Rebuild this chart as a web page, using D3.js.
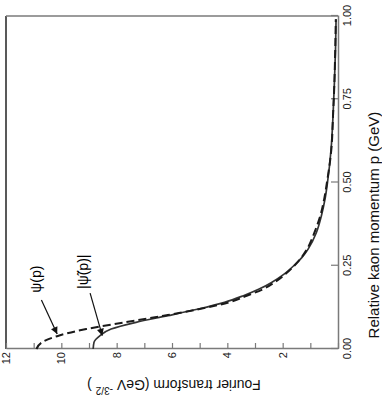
<!DOCTYPE html>
<html>
<head>
<meta charset="utf-8">
<script src="https://cdn.jsdelivr.net/npm/d3@7"></script>
<style>
  body { margin: 0; background: #fff; }
  text { font-family: "Liberation Sans", Arial, sans-serif; }
</style>
</head>
<body>
<svg id="chart" width="382" height="407"></svg>
<script>
// relative momentum p (GeV)
const pVals = [0, 0.02, 0.04, 0.06, 0.08, 0.10, 0.12, 0.14, 0.16, 0.18, 0.20, 0.225, 0.25, 0.275, 0.30, 0.35, 0.40, 0.45, 0.50, 0.60, 0.70, 0.80, 0.90, 0.99]
// psi(p) dashed
const psiVals = [10.9, 10.7, 10.1, 9.1, 7.7, 6.3, 5.0, 3.95, 3.3, 2.7, 2.3, 1.9, 1.58, 1.32, 1.12, 0.85, 0.64, 0.5, 0.4, 0.24, 0.18, 0.13, 0.1, 0.08]
// |psi~(p)| solid
const psiTilVals = [8.85, 8.82, 8.6, 8.2, 7.3, 6.15, 5.05, 4.1, 3.42, 2.85, 2.4, 1.95, 1.6, 1.3, 1.08, 0.78, 0.6, 0.47, 0.38, 0.25, 0.18, 0.13, 0.09, 0.07]
const pTicks = [0, 0.25, 0.5, 0.75, 1.0]
const vTicks = [0, 1, 2, 3, 4, 5, 6, 7, 8, 9, 10, 11, 12]

const W = 333, H = 332 // plot size before rotation
const axisCol = "#7a7a7a"
const lineCol = "#333"

var svg = d3.select("#chart")
svg.append("rect").attr("width", 382).attr("height", 407).attr("fill", "#fff")

// marker for arrows
svg.append("defs").append("marker")
  .attr("id", "arr")
  .attr("viewBox", "0 0 10 10")
  .attr("refX", 10).attr("refY", 5)
  .attr("markerWidth", 9).attr("markerHeight", 7)
  .attr("markerUnits", "userSpaceOnUse")
  .attr("orient", "auto")
  .append("path").attr("d", "M0,0 L10,5 L0,10 z").attr("fill", "#111")

// whole chart is drawn normally and turned 90deg counter-clockwise
const g = svg.append("g").attr("transform", "translate(6,349) rotate(-90)")

const x = d3.scaleLinear().domain([0, 1]).range([0, W])
const y = d3.scaleLinear().domain([0, 12]).range([H, 0])

// frame (top side of the plot drawn darker)
g.append("line").attr("x1", 0).attr("x2", W).attr("y1", 0).attr("y2", 0)
  .attr("stroke", "#222").attr("stroke-width", 1.5)
g.append("line").attr("x1", W).attr("x2", W).attr("y1", 0).attr("y2", H)
  .attr("stroke", axisCol).attr("stroke-width", 1.5)

const xAxis = d3.axisBottom(x).tickValues(pTicks).tickFormat(d3.format(".2f"))
  .tickSizeInner(-7).tickSizeOuter(0).tickPadding(5)
const gx = g.append("g").attr("transform", `translate(0,${H})`).call(xAxis)

const yAxis = d3.axisLeft(y).tickValues(vTicks)
  .tickFormat(d => (d > 0 && d % 2 == 0) ? d : "")
  .tickSizeInner(-6).tickSizeOuter(0).tickPadding(3)
const gy = g.append("g").call(yAxis)

for (const a of [gx, gy]) {
  a.select(".domain").attr("stroke", axisCol).attr("stroke-width", 1.5)
  a.selectAll(".tick line").attr("stroke", axisCol).attr("stroke-width", 1.2)
  a.selectAll(".tick text").attr("font-size", "11px").attr("fill", "#222")
    .attr("font-family", "Liberation Sans, Arial, sans-serif")
}

// axis titles
g.append("text")
  .attr("x", 349 - 225).attr("y", H + 41)
  .attr("text-anchor", "middle").attr("font-size", "15px").attr("fill", "#111")
  .text("Relative kaon momentum p (GeV)")

const yt = g.append("text")
  .attr("transform", `translate(-31,${H / 2 + 2}) rotate(-90)`)
  .attr("text-anchor", "middle").attr("font-size", "14px").attr("fill", "#111")
yt.append("tspan").text("Fourier transform (GeV ")
yt.append("tspan").attr("font-size", "10px").attr("dy", "-7").text("-3/2")
yt.append("tspan").attr("dy", "7").text(" )")

// curves
const line = d3.line().curve(d3.curveMonotoneX)
const psi = pVals.map((p, i) => [x(p), y(psiVals[i])])
const psiTil = pVals.map((p, i) => [x(p), y(psiTilVals[i])])

g.append("path").attr("d", line(psiTil)).attr("fill", "none")
  .attr("stroke", lineCol).attr("stroke-width", 1.7)
g.append("path").attr("d", line(psi)).attr("fill", "none")
  .attr("stroke", "#1a1a1a").attr("stroke-width", 2)
  .attr("stroke-dasharray", "8,4")

// labels with arrows
const serif = "Liberation Serif, Times New Roman, serif"
g.append("text").attr("x", x(0.21)).attr("y", y(10.9)).attr("dy", "0.35em")
  .attr("text-anchor", "middle").attr("font-size", "14px").attr("font-family", serif)
  .text("ψ(p)")
g.append("line")
  .attr("x1", x(0.147)).attr("y1", y(10.72))
  .attr("x2", x(0.045)).attr("y2", y(10.15))
  .attr("stroke", "#111").attr("stroke-width", 1.2).attr("marker-end", "url(#arr)")

g.append("text").attr("x", x(0.232)).attr("y", y(9.2)).attr("dy", "0.35em")
  .attr("text-anchor", "middle").attr("font-size", "14px").attr("font-family", serif)
  .text("|ψ\u0303(p)|")
g.append("line")
  .attr("x1", x(0.168)).attr("y1", y(8.96))
  .attr("x2", x(0.04)).attr("y2", y(8.52))
  .attr("stroke", "#111").attr("stroke-width", 1.2).attr("marker-end", "url(#arr)")
</script>
</body>
</html>
